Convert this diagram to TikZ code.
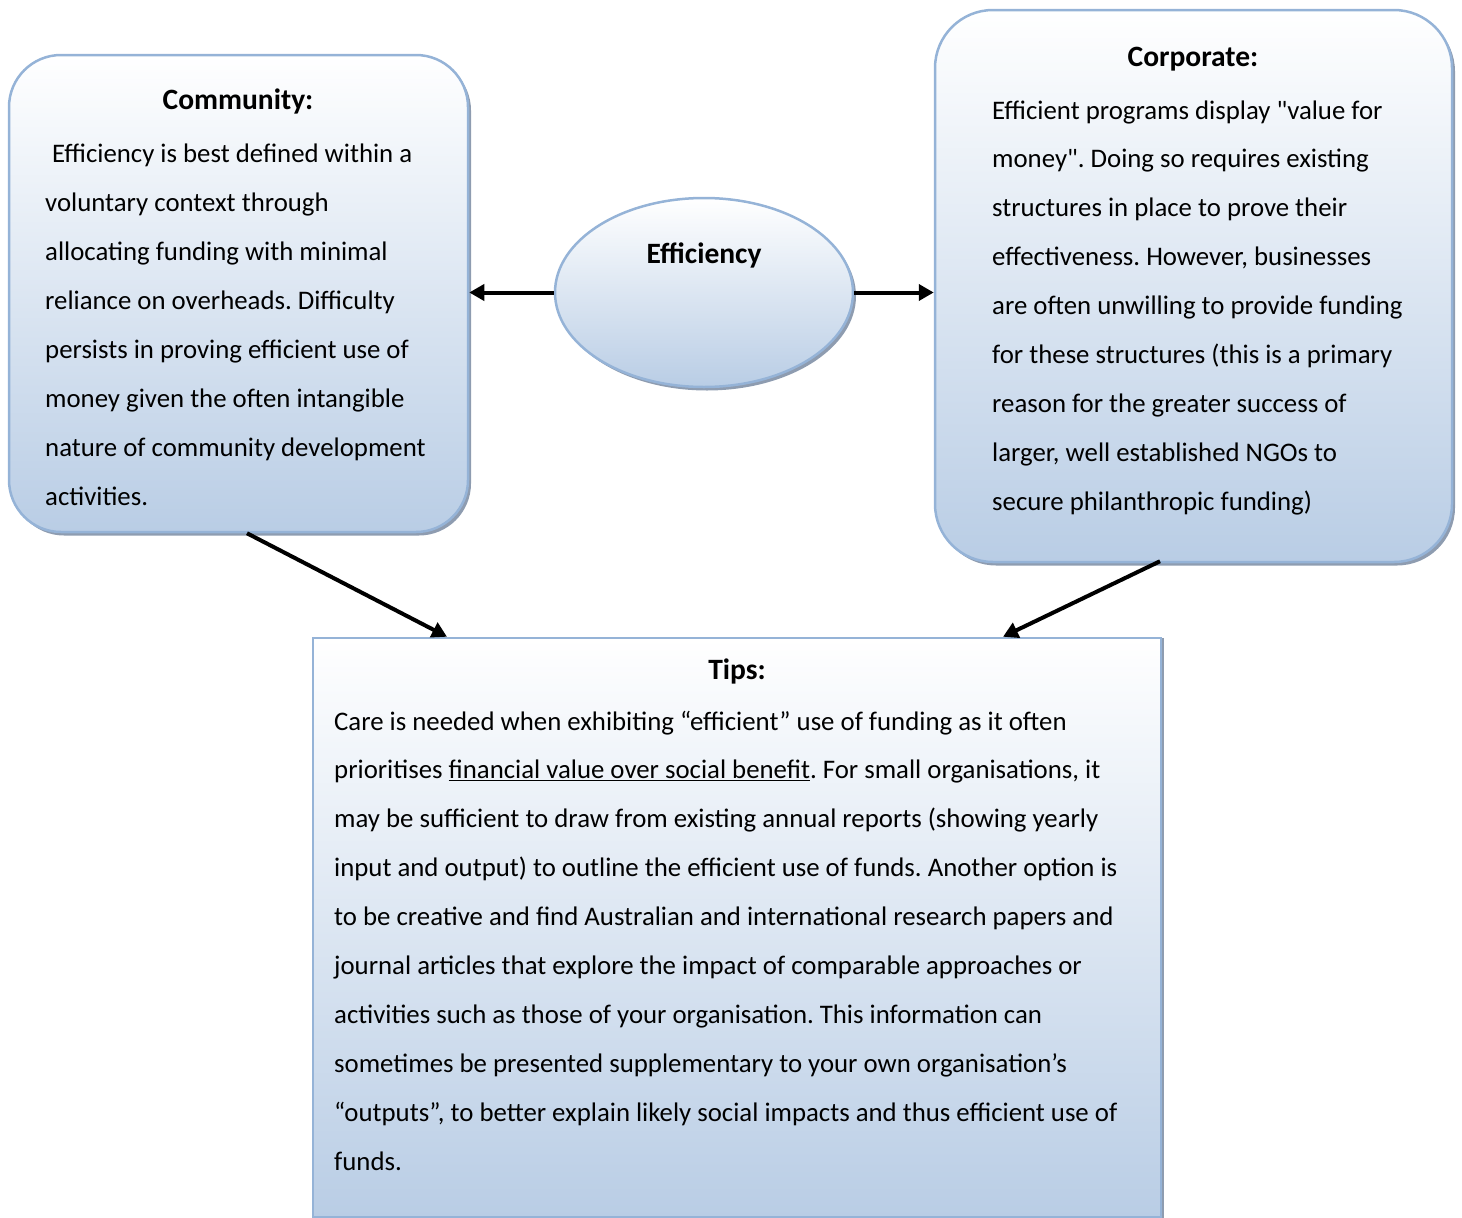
\documentclass[tikz,border=0pt]{standalone}
\usepackage{fontspec}
\setmainfont{Carlito}
\usetikzlibrary{arrows.meta,shapes.geometric,shadows}
\definecolor{bord}{HTML}{95B3D7}
\definecolor{fillb}{HTML}{B9CDE5}
\definecolor{shad}{HTML}{8E9CB0}
\newcommand{\sq}{\XeTeXglyph\XeTeXcharglyph"22\relax}
\tikzset{
  panel/.style={draw=bord, line width=2.5pt, top color=white, bottom color=fillb,
    general shadow={shadow xshift=3pt, shadow yshift=-3.5pt, fill=shad}},
  txt/.style={inner sep=0pt, anchor=base west, font=\fontsize{26.8}{32}\selectfont},
  ttl/.style={inner sep=0pt, anchor=base, font=\fontsize{29.5}{34}\selectfont\bfseries},
  arr/.style={line width=4pt, -{Triangle[length=15pt,width=16pt]}}
}
\frenchspacing
\begin{document}
\begin{tikzpicture}[x=1pt,y=-1pt]
\useasboundingbox (0,0) rectangle (1462,1218);
% shapes
\node[panel, rectangle, rounded corners=52pt, minimum width=459pt, minimum height=477pt, inner sep=0pt] (comm) at (238.5,293.5) {};
\node[panel, rectangle, rounded corners=58pt, minimum width=517pt, minimum height=552pt, inner sep=0pt] (corp) at (1193.5,286) {};
\node[panel, ellipse, minimum width=298pt, minimum height=189pt, inner sep=0pt] (eff) at (704,292.5) {};
\node[panel, rectangle, general shadow={shadow xshift=3pt, shadow yshift=0pt, fill=shad}, minimum width=848pt, minimum height=579pt, inner sep=0pt] (tips) at (737,927.5) {};
% titles
\node[ttl] (commt) at (238,109) {Community:};
\node[ttl] (corpt) at (1193,66) {Corporate:};
\node[ttl] (efft) at (704,263) {Efficiency};
\node[ttl] (tipst) at (737,679) {Tips:};
% community text
\foreach \t [count=\i] in {
  {\hspace{7pt}Efficiency is best defined within a},
  {voluntary context through},
  {allocating funding with minimal},
  {reliance on overheads. Difficulty},
  {persists in proving efficient use of},
  {money given the often intangible},
  {nature of community development},
  {activities.}}
  \node[txt] (c\i) at (45,{162+49*(\i-1)}) {\t};
% corporate text
\foreach \t [count=\i] in {
  {Efficient programs display \sq value for},
  {money\sq. Doing so requires existing},
  {structures in place to prove their},
  {effectiveness. However, businesses},
  {are often unwilling to provide funding},
  {for these structures (this is a primary},
  {reason for the greater success of},
  {larger, well established NGOs to},
  {secure philanthropic funding)}}
  \node[txt] (k\i) at (992,{119+48.9*(\i-1)}) {\t};
% tips text
\foreach \t [count=\i] in {
  {Care is needed when exhibiting “efficient” use of funding as it often},
  {prioritises \underline{financial value over social benefit}. For small organisations, it},
  {may be sufficient to draw from existing annual reports (showing yearly},
  {input and output) to outline the efficient use of funds. Another option is},
  {to be creative and find Australian and international research papers and},
  {journal articles that explore the impact of comparable approaches or},
  {activities such as those of your organisation. This information can},
  {sometimes be presented supplementary to your own organisation’s},
  {“outputs”, to better explain likely social impacts and thus efficient use of},
  {funds.}}
  \node[txt] (t\i) at (334,{730+48.9*(\i-1)}) {\t};
% connectors
\draw[arr] (eff.west) -- (eff.west -| comm.east);
\draw[arr] (eff.east) -- (eff.east -| corp.west);
\draw[arr] ([xshift=8.5pt]comm.south) -- ([xshift=-290pt]tips.north);
\draw[arr] ([xshift=-33.5pt,yshift=2pt]corp.south) -- ([xshift=266pt]tips.north);
\end{tikzpicture}
\end{document}
